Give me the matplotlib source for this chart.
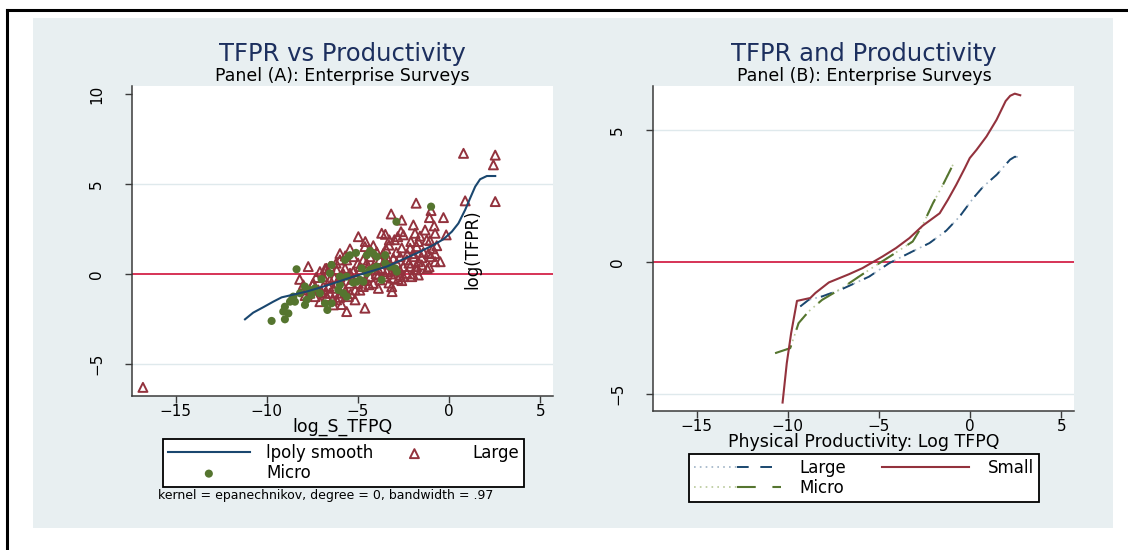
import matplotlib
matplotlib.use("Agg")
import matplotlib.pyplot as plt
from matplotlib.lines import Line2D
from matplotlib.patches import Rectangle
from matplotlib.legend_handler import HandlerTuple

plt.rcParams['font.family'] = ['DejaVu Sans']

# ---------------- Panel A data ----------------
large_x = [0.79, 2.53, 2.43, 0.88, 2.53, -16.8,
           -1.81, -0.99, -1.08, -0.31, -3.18, -2.6, -1.96, -0.82, -1.32, -1.87, -2.64, -2.51,
           -3.7, -4.98, -3.28, -2.82, -0.77, -0.16, -1.23, -1.69, -1.05, -4.16, -4.62, -5.44,
           -5.99, -3.47, -2.6, -2.14, -1.78, -0.68, -1.14, -0.77, -1.0, -0.49, -0.77, -1.96,
           -1.69, -2.69, -3.06, -3.61, -3.97, -4.34, -3.42, -2.87, -2.51, -2.14, -1.78, -1.69,
           -2.69, -2.32, -2.96, -3.42, -3.88, -3.51, -3.79, -3.06, -2.6, -3.15, -3.88, -4.16,
           -4.62, -4.98, -5.16, -5.16, -5.62, -4.62, -3.13, -5.53, -5.99, -5.8, -6.17, -6.54,
           -6.9, -7.09, -6.72, -6.17, -5.71, -5.44, -7.73, -7.45, -8.0, -7.18, -6.54, -6.17,
           -7.36, -7.82, -7.64, -6.9, -5.99, -4.52, -4.89, -4.71, -5.62, -5.26, -5.99, -6.54,
           -2.32, -1.41, -1.96, -3.42, -4.16, -5.07, -4.34, -4.71, -5.44, -5.71, -6.35, -6.81,
           -7.09, -6.35, -6.72, -5.26, -3.88, -3.61, -2.51, -2.05, -1.78,
           -4.3, -3.8, -3.3, -2.9, -2.3, -1.5, -1.2, -2.0, -2.8, -3.3, -4.0, -4.5, -5.0,
           -5.3, -5.8, -6.3, -6.6, -7.0, -7.5, -6.0, -5.4, -4.9, -4.4, -3.7, -3.2, -2.7,
           -2.2, -1.5, -1.1, -0.9, -1.6, -2.1, -3.0, -3.5, -4.6, -5.7, -6.2, -6.8, -7.3,
           -8.2, -7.9, -6.4, -5.9]
large_y = [6.7, 6.6, 6.06, 4.06, 4.02, -6.3,
           3.93, 3.52, 3.13, 3.13, 3.33, 2.99, 2.72, 2.67, 2.44, 2.26, 2.35, 2.17,
           2.26, 2.07, 1.89, 2.07, 2.26, 2.17, 1.89, 1.8, 1.85, 1.57, 1.52, 1.39,
           1.13, 1.39, 1.45, 1.43, 1.52, 1.57, 1.13, 1.13, 0.96, 0.68, 0.68, 0.96,
           0.68, 0.96, 0.87, 1.13, 1.22, 0.96, 0.59, 0.59, 0.41, 0.41, 0.22, -0.06,
           -0.06, 0.04, 0.22, 0.13, 0.22, -0.15, -0.33, -0.24, -0.37, -0.71, -0.8, -0.52,
           -0.37, -0.52, -0.89, -1.44, -2.09, -1.9, -0.98, -1.26, -1.07, -0.7, -0.52, -0.33,
           -0.15, 0.13, 0.31, 0.22, 0.31, 0.04, 0.41, -0.52, -0.61, -0.89, -1.07, -1.44,
           -1.26, -0.89, -1.07, -0.7, -0.15, 0.59, 0.41, 0.78, 0.78, 0.96, 0.78, 0.41,
           0.78, 1.2, 1.13, 0.96, 0.41, -0.15, -0.15, -0.7, -0.52, -0.98, -0.8, -1.07,
           -1.54, -1.72, -1.26, 0.13, -0.06, 0.59, -0.15, -0.15, 0.41,
           1.3, 0.8, 1.6, 1.2, 1.1, 0.5, 0.3, 0.0, -0.3, -0.5, 0.0, 0.3, 0.6,
           -0.3, 0.0, -0.2, -0.7, -1.0, -0.6, -1.3, -1.1, -0.9, -0.6, 0.3, 0.0, 0.2,
           0.6, 0.9, 0.4, 1.4, 2.1, 1.8, 1.9, 2.2, 1.8, 1.0, 0.6, 0.3, -0.2,
           -0.3, -1.2, -1.4, -1.7]

micro_x = [-0.99, -2.89, -8.37, -6.45, -5.53, -5.11, -4.52, -4.34, -3.97, -3.51, -3.51, -4.8,
           -4.52, -4.16, -3.97, -2.96, -3.7, -4.71, -5.26, -5.99, -5.99, -6.54, -7.0, -7.36,
           -7.91, -7.55, -7.82, -7.91, -7.09, -8.55, -8.73, -9.01, -9.1, -8.82, -9.74, -9.01,
           -6.68, -6.81, -6.45, -5.62, -5.8, -6.08, -5.07, -5.62, -4.89, -3.24, -2.87, -4.34,
           -4.16, -5.71, -5.44, -7.64, -8.18, -8.46, -8.64]
micro_y = [3.74, 2.9, 0.26, 0.5, 0.96, 1.17, 1.04, 1.28, 0.96, 1.04, 0.59, 0.31,
           0.04, 0.31, 0.41, 0.31, -0.33, -0.43, -0.48, -0.15, -0.61, 0.04, -0.29, -0.8,
           -0.7, -1.17, -1.44, -1.72, -1.07, -1.26, -1.54, -1.82, -2.09, -2.19, -2.61, -2.52,
           -2.0, -1.63, -1.63, -1.26, -1.07, -0.89, -0.43, -0.15, -0.33, 0.41, 0.13, 0.22,
           1.13, 0.78, 1.04, -0.89, -1.07, -1.54, -1.44]

lpoly_x = [-11.2, -10.75, -10.2, -9.65, -9.19, -8.55, -7.82, -7.09, -6.17, -5.26, -4.34,
           -3.42, -2.51, -1.59, -0.86, -0.31, 0.15, 0.51, 0.88, 1.15, 1.43, 1.7, 2.07, 2.53]
lpoly_y = [-2.52, -2.15, -1.85, -1.54, -1.3, -1.15, -0.98, -0.76, -0.46, -0.15, 0.13,
           0.41, 0.82, 1.24, 1.61, 1.93, 2.35, 2.81, 3.56, 4.2, 4.85, 5.26, 5.44, 5.44]

# ---------------- Panel B data ----------------
small_x = [-10.29, -10.06, -9.82, -9.5, -8.77, -8.49, -7.75, -6.65, -5.91, -5.36, -4.81,
           -4.07, -3.33, -2.6, -1.67, -1.22, -0.76, -0.29, -0.02, 0.35, 0.9, 1.45, 1.95,
           2.2, 2.45, 2.75]
small_y = [-5.32, -3.83, -2.69, -1.47, -1.36, -1.17, -0.77, -0.46, -0.23, -0.01, 0.21,
           0.53, 0.91, 1.38, 1.85, 2.36, 2.93, 3.56, 3.94, 4.25, 4.76, 5.39, 6.1,
           6.3, 6.38, 6.32]
largeb_x = [-9.32, -8.86, -8.12, -7.02, -5.54, -4.44, -2.97, -2.23, -1.31, -0.57, 0.17,
            0.72, 1.46, 2.19, 2.45, 2.71]
largeb_y = [-1.68, -1.43, -1.3, -1.02, -0.55, -0.04, 0.47, 0.72, 1.19, 1.73, 2.42,
            2.86, 3.31, 3.88, 3.99, 3.98]
microb_x = [-10.7, -9.87, -9.41, -8.86, -8.12, -7.02, -6.1, -5.18, -4.25, -3.15, -2.6,
            -2.04, -1.49, -0.94]
microb_y = [-3.45, -3.26, -2.31, -1.87, -1.43, -0.98, -0.55, -0.13, 0.28, 0.78, 1.41,
            2.23, 2.93, 3.69]

xticks = [-15, -10, -5, 0, 5]
yticks_a = [-5, 0, 5, 10]
yticks_b = [-5, 0, 5]

# ---------------- colours ----------------
BG = '#e8eff1'
NAVY = '#1a476f'
MAROON = '#93323d'
GREEN = '#55752f'
ZERO = '#d0103a'
GRID = '#dfe9ec'
TITLE = '#1c2f5e'
AX = '#3a3a3a'

W, H = 1128, 550
fig = plt.figure(figsize=(W / 100, H / 100), dpi=100)
fig.patch.set_facecolor('white')

# background region and outer frame
fig.add_artist(Rectangle((33 / W, 1 - 528 / H), 1080 / W, 510 / H,
                         transform=fig.transFigure, facecolor=BG, edgecolor='none', zorder=0))
fig.add_artist(Line2D([7 / W, 1.0], [1 - 10 / H, 1 - 10 / H], transform=fig.transFigure,
                      color='black', lw=2.2))
fig.add_artist(Line2D([7 / W, 7 / W], [1 - 10 / H, 0], transform=fig.transFigure,
                      color='black', lw=2.2))


def style_axes(ax, yticks):
    ax.set_facecolor('white')
    for s in ['top', 'right']:
        ax.spines[s].set_visible(False)
    for s in ['left', 'bottom']:
        ax.spines[s].set_color(AX)
        ax.spines[s].set_linewidth(1.1)
    ax.set_xticks(xticks)
    ax.set_yticks(yticks)
    ax.tick_params(axis='both', direction='out', length=5, width=1, color=AX,
                   labelsize=11, labelcolor='black')
    ax.tick_params(axis='x', pad=1)
    ax.tick_params(axis='y', labelrotation=90, pad=15)
    for t in ax.get_yticklabels():
        t.set_va('center')
    for g in [-5, 5]:
        ax.axhline(g, color=GRID, lw=1.0, zorder=0.5)
    ax.axhline(0, color=ZERO, lw=1.2, zorder=1)


# ---------------- Panel A ----------------
axA = fig.add_axes([132 / W, 1 - 396 / H, 421 / W, 310 / H])
style_axes(axA, yticks_a)
axA.set_xlim(-17.4, 5.7)
axA.set_ylim(-6.78, 10.44)
hL = axA.scatter(large_x, large_y, marker='^', s=42, facecolors='none',
                 edgecolors=MAROON, linewidths=1.4, zorder=2)
hM = axA.scatter(micro_x, micro_y, marker='o', s=34, color=GREEN,
                 edgecolors='none', zorder=3)
hP, = axA.plot(lpoly_x, lpoly_y, color=NAVY, lw=1.5, zorder=4)
axA.text(1.26, 1.39, 'log(TFPR)', rotation=90, ha='center', va='center',
         fontsize=12, color='black', zorder=5)
axA.set_xlabel('log_S_TFPQ', fontsize=12.5, labelpad=-1)

fig.text(342 / W, 1 - 54 / H, 'TFPR vs Productivity', ha='center', va='center',
         fontsize=17.5, color=TITLE)
fig.text(342 / W, 1 - 76 / H, 'Panel (A): Enterprise Surveys', ha='center', va='center',
         fontsize=12.5, color='black')

legA = fig.legend([hP, hM, hL], ['lpoly smooth', 'Micro', 'Large'], ncol=2,
                  loc='upper left', bbox_to_anchor=(163 / W, 1 - 439 / H),
                  bbox_transform=fig.transFigure, borderaxespad=0,
                  frameon=True, fancybox=False, edgecolor='black', framealpha=1,
                  fontsize=12, handlelength=4.9, handletextpad=1.0, columnspacing=0.0,
                  borderpad=0.3, labelspacing=0.12)
legA.get_frame().set_linewidth(1.3)

fig.text(326 / W, 1 - 496 / H, 'kernel = epanechnikov, degree = 0, bandwidth = .97',
         ha='center', va='center', fontsize=9, color='black')

# ---------------- Panel B ----------------
axB = fig.add_axes([653 / W, 1 - 411 / H, 421 / W, 325 / H])
style_axes(axB, yticks_b)
axB.set_xlim(-17.4, 5.7)
axB.set_ylim(-5.64, 6.67)

lb1, = axB.plot(largeb_x, largeb_y, color='#9fb3c6', lw=1.2, dashes=(1, 2.5), zorder=2)
lb2, = axB.plot(largeb_x, largeb_y, color=NAVY, lw=1.4, dashes=(6, 6), zorder=3)
ls, = axB.plot(small_x, small_y, color=MAROON, lw=1.5, zorder=4)
lm1, = axB.plot(microb_x, microb_y, color='#b9c99a', lw=1.2, dashes=(1, 2.5), zorder=2)
lm2, = axB.plot(microb_x, microb_y, color=GREEN, lw=1.5, dashes=(9, 8), zorder=3)
axB.set_xlabel('Physical Productivity: Log TFPQ', fontsize=12.5, labelpad=-1)

fig.text(864 / W, 1 - 54 / H, 'TFPR and Productivity', ha='center', va='center',
         fontsize=17.5, color=TITLE)
fig.text(864 / W, 1 - 76 / H, 'Panel (B): Enterprise Surveys', ha='center', va='center',
         fontsize=12.5, color='black')

legB = fig.legend([(lb1, lb2), (lm1, lm2), ls], ['Large', 'Micro', 'Small'], ncol=2,
                  loc='upper left', bbox_to_anchor=(689 / W, 1 - 454 / H),
                  bbox_transform=fig.transFigure, borderaxespad=0,
                  frameon=True, fancybox=False, edgecolor='black', framealpha=1,
                  fontsize=12, handlelength=5.2, handletextpad=1.1, columnspacing=2.2,
                  borderpad=0.3, labelspacing=0.12,
                  handler_map={tuple: HandlerTuple(ndivide=None, pad=0)})
legB.get_frame().set_linewidth(1.3)

fig.savefig('out.png', dpi=100, facecolor='white')
